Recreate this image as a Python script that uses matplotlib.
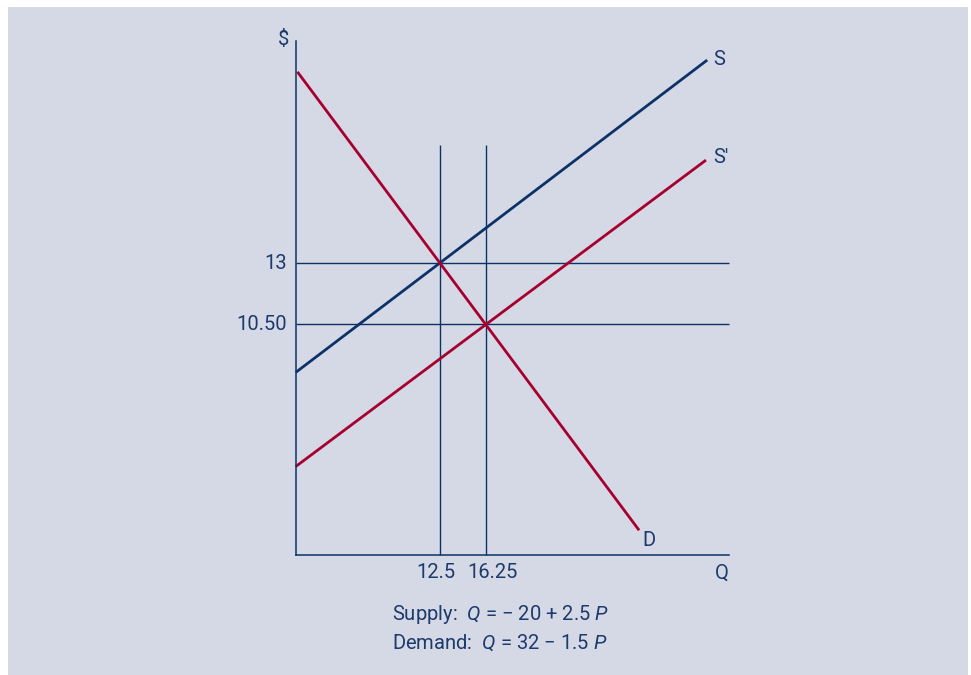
import matplotlib.pyplot as plt
from matplotlib.patches import Rectangle

plt.rcParams['font.family'] = ['Roboto', 'DejaVu Sans']
plt.rcParams['mathtext.fontset'] = 'custom'
plt.rcParams['mathtext.it'] = 'Roboto:italic'
plt.rcParams['mathtext.rm'] = 'Roboto'

# curve end points (quantity, price)
demand_q = [0.9, 28.75]
demand_p = [20.8, 2.1]
supply_q = [0.76, 34.3]
supply_p = [8.54, 21.28]
subsidy_q = [0.76, 34.2]
subsidy_p = [4.7, 17.2]

# equilibria before and after the shift
eq_q = [12.5, 16.25]
eq_p = [13, 10.5]
q_labels = ['12.5', '16.25']
p_labels = ['13', '10.50']

navy = '#0d3268'
red = '#a6002f'
panel = '#d5d9e6'
text_c = '#1c3a6c'

W, H = 971, 675
fig = plt.figure(figsize=(W / 100, H / 100), dpi=100)
fig.patch.set_facecolor('white')
fig.patches.append(Rectangle((8 / W, 0), 960 / W, 668 / H, transform=fig.transFigure,
                             facecolor=panel, edgecolor='none', zorder=-5))

x0, x1 = 295.7, 729.3
y0, y1 = 555.3, 40.7
ax = fig.add_axes([x0 / W, 1 - y0 / H, (x1 - x0) / W, (y0 - y1) / H])
ax.set_zorder(2)
ax.patch.set_visible(False)
ax.set_xlim(0.76, 36.1)
ax.set_ylim(1.08, 22.07)

for s in ['top', 'right']:
    ax.spines[s].set_visible(False)
for s in ['left', 'bottom']:
    ax.spines[s].set_color(navy)
    ax.spines[s].set_linewidth(1.1)
ax.set_xticks([])
ax.set_yticks([])

# guide lines through the two equilibria
for p in eq_p:
    ax.plot([0.76, 36.1], [p, p], color=navy, lw=1.0, solid_capstyle='butt', clip_on=False)
for q in eq_q:
    ax.plot([q, q], [1.08, 17.82], color=navy, lw=1.0, solid_capstyle='butt', clip_on=False)

ax.plot(supply_q, supply_p, color=navy, lw=2.0, solid_capstyle='butt', clip_on=False)
ax.plot(subsidy_q, subsidy_p, color=red, lw=2.0, solid_capstyle='butt', clip_on=False)
ax.plot(demand_q, demand_p, color=red, lw=2.0, solid_capstyle='butt', clip_on=False)

fs = 14.5
tk = dict(fontsize=fs, color=text_c, clip_on=False)
for p, lab in zip(eq_p, p_labels):
    ax.text(0.76 - 0.7, p, lab, ha='right', va='center', **tk)
# quantity labels sit a little apart from their guide lines
for q, lab, dq in zip(eq_q, q_labels, [-0.33, 0.57]):
    ax.text(q + dq, 1.08 - 0.72, lab, ha='center', va='center', **tk)

ax.text(35.5, 1.08 - 0.72, 'Q', ha='center', va='center', **tk)
ax.text(0.76 - 1.0, 22.1, r'\$', ha='center', va='center', **tk)
ax.text(29.0, 1.7, 'D', ha='left', va='center', **tk)
ax.text(34.8, 21.3, 'S', ha='left', va='center', **tk)
ax.text(34.8, 17.3, 'S\u2032', ha='left', va='center', **tk)

fig.text(392 / W, 1 - 615 / H, 'Supply:  $Q$ = \u2212 20 + 2.5 $P$',
         ha='left', va='center', fontsize=fs, color=text_c)
fig.text(392 / W, 1 - 642.7 / H, 'Demand:  $Q$ = 32 \u2212 1.5 $P$',
         ha='left', va='center', fontsize=fs, color=text_c)

fig.savefig('out.png', dpi=100)
